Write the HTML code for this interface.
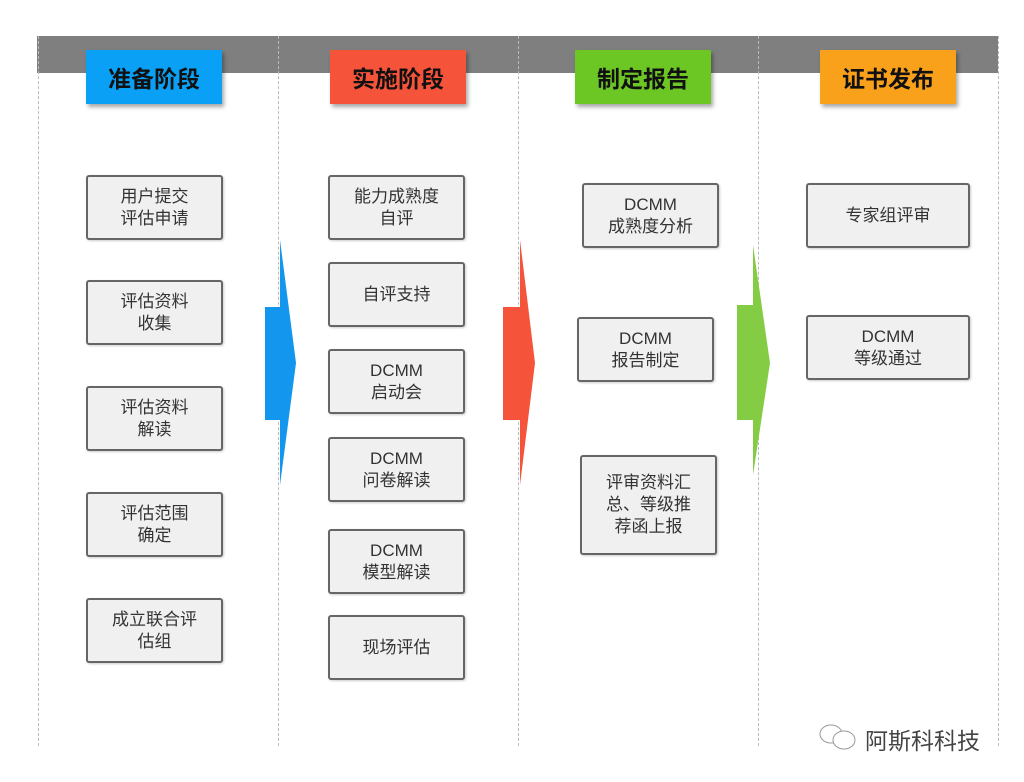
<!DOCTYPE html>
<html><head><meta charset="utf-8"><style>
body{margin:0;width:1024px;height:782px;background:#fff;position:relative;overflow:hidden;font-family:"Liberation Sans","Noto Sans CJK SC",sans-serif}
.bar{position:absolute;left:37px;top:36px;width:961px;height:37px;background:#7f7f7f}
.v{position:absolute;top:36px;height:710px;border-left:1px dashed #bbb}
.h{position:absolute;top:50px;height:54px;width:136px;display:flex;align-items:center;justify-content:center;font-size:23px;font-weight:bold;color:#111;box-shadow:2px 3px 4px rgba(0,0,0,.35)}
.b{position:absolute;background:#f0f0f0;border:2px solid #666;border-radius:3px;box-sizing:border-box;display:flex;align-items:center;justify-content:center;text-align:center;font-size:17px;line-height:22px;color:#333;box-shadow:1px 1px 2px rgba(0,0,0,.2)}
</style></head><body>
<div class="bar"></div>
<div class="v" style="left:38px"></div><div class="v" style="left:278px"></div><div class="v" style="left:518px"></div><div class="v" style="left:758px"></div><div class="v" style="left:998px"></div>
<div class="h" style="left:86px;background:#0aa0f5">准备阶段</div>
<div class="h" style="left:330px;background:#f5533a">实施阶段</div>
<div class="h" style="left:575px;background:#6cc624">制定报告</div>
<div class="h" style="left:820px;background:#f9a11b">证书发布</div>
<svg style="position:absolute;left:0;top:0" width="1024" height="782">
<polygon points="265,307 280,307 280,240 296,363 280,485 280,420 265,420" fill="#1296ee"/>
<polygon points="503,307 520,307 520,240 535,363 520,485 520,420 503,420" fill="#f5533a"/>
<polygon points="737,305 753,305 753,245 770,363 753,475 753,420 737,420" fill="#84cc44"/>
</svg>
<div class="b" style="left:86px;top:175px;width:137px;height:65px">用户提交<br>评估申请</div>
<div class="b" style="left:86px;top:280px;width:137px;height:65px">评估资料<br>收集</div>
<div class="b" style="left:86px;top:386px;width:137px;height:65px">评估资料<br>解读</div>
<div class="b" style="left:86px;top:492px;width:137px;height:65px">评估范围<br>确定</div>
<div class="b" style="left:86px;top:598px;width:137px;height:65px">成立联合评<br>估组</div>
<div class="b" style="left:328px;top:175px;width:137px;height:65px">能力成熟度<br>自评</div>
<div class="b" style="left:328px;top:262px;width:137px;height:65px">自评支持</div>
<div class="b" style="left:328px;top:349px;width:137px;height:65px">DCMM<br>启动会</div>
<div class="b" style="left:328px;top:437px;width:137px;height:65px">DCMM<br>问卷解读</div>
<div class="b" style="left:328px;top:529px;width:137px;height:65px">DCMM<br>模型解读</div>
<div class="b" style="left:328px;top:615px;width:137px;height:65px">现场评估</div>
<div class="b" style="left:582px;top:183px;width:137px;height:65px">DCMM<br>成熟度分析</div>
<div class="b" style="left:577px;top:317px;width:137px;height:65px">DCMM<br>报告制定</div>
<div class="b" style="left:580px;top:455px;width:137px;height:100px">评审资料汇<br>总、等级推<br>荐函上报</div>
<div class="b" style="left:806px;top:183px;width:164px;height:65px">专家组评审</div>
<div class="b" style="left:806px;top:315px;width:164px;height:65px">DCMM<br>等级通过</div>
<svg style="position:absolute;left:818px;top:722px" width="42" height="32"><ellipse cx="13" cy="12" rx="11" ry="9" fill="none" stroke="#999"/><ellipse cx="26" cy="18" rx="11" ry="9" fill="#fff" stroke="#999"/></svg>
<div style="position:absolute;left:865px;top:722px;font-size:23px;color:#444">阿斯科科技</div>
</body></html>
